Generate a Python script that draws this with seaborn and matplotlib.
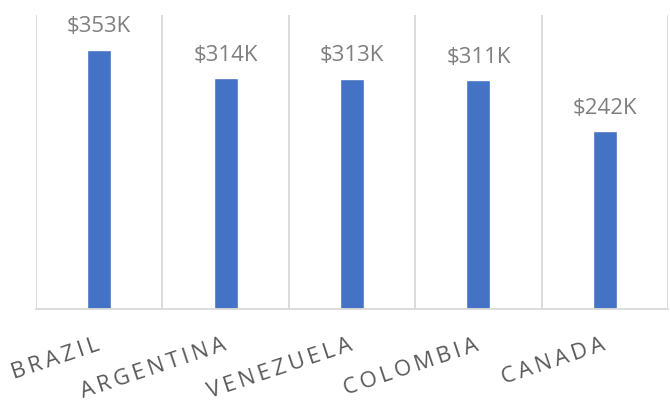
import matplotlib
matplotlib.use("Agg")
import matplotlib.pyplot as plt
import seaborn as sns
import pandas as pd
import numpy as np

countries = ["BRAZIL", "ARGENTINA", "VENEZUELA", "COLOMBIA", "CANADA"]
revenue_k = [353, 314, 313, 311, 242]

df = pd.DataFrame({"country": countries, "revenue": revenue_k})

sns.set_theme(style="white")
plt.rcParams["font.family"] = ["Open Sans", "DejaVu Sans"]

fig = plt.figure(figsize=(6.70, 4.01), dpi=100)
ax = fig.add_axes([36 / 670, 1 - 309 / 401, 632 / 670, 294 / 401])

sns.barplot(data=df, x="country", y="revenue", color="#4472C4",
            width=0.19, saturation=1, ax=ax)

ax.set_ylim(0, 400)
ax.set_xlim(-0.5, len(countries) - 0.5)

# vertical separators between categories
ax.set_xticks(np.arange(-0.5, len(countries)), minor=True)
ax.grid(False)
ax.grid(True, which="minor", axis="x", color="#d9d9d9", linewidth=1.3)
ax.tick_params(which="both", length=0)
ax.set_yticks([])

for side in ["top", "left", "right"]:
    ax.spines[side].set_visible(False)
ax.spines["bottom"].set_color("#d9d9d9")
ax.spines["bottom"].set_linewidth(1.3)

ax.bar_label(ax.containers[0], labels=[f"${v}K" for v in revenue_k],
             padding=9, fontsize=16, color="#7f7f7f")

# spaced, tilted category labels
ax.set_xticks(range(len(countries)))
ax.set_xticklabels([])
for i, name in enumerate(countries):
    ax.text(i - 0.03, -0.088, "\u2009".join(name), transform=ax.get_xaxis_transform(),
            rotation=18.5, rotation_mode="anchor", ha="right", va="top",
            fontsize=16, color="#595959")

ax.set_xlabel("")
ax.set_ylabel("")

fig.savefig("out.png", dpi=100)
